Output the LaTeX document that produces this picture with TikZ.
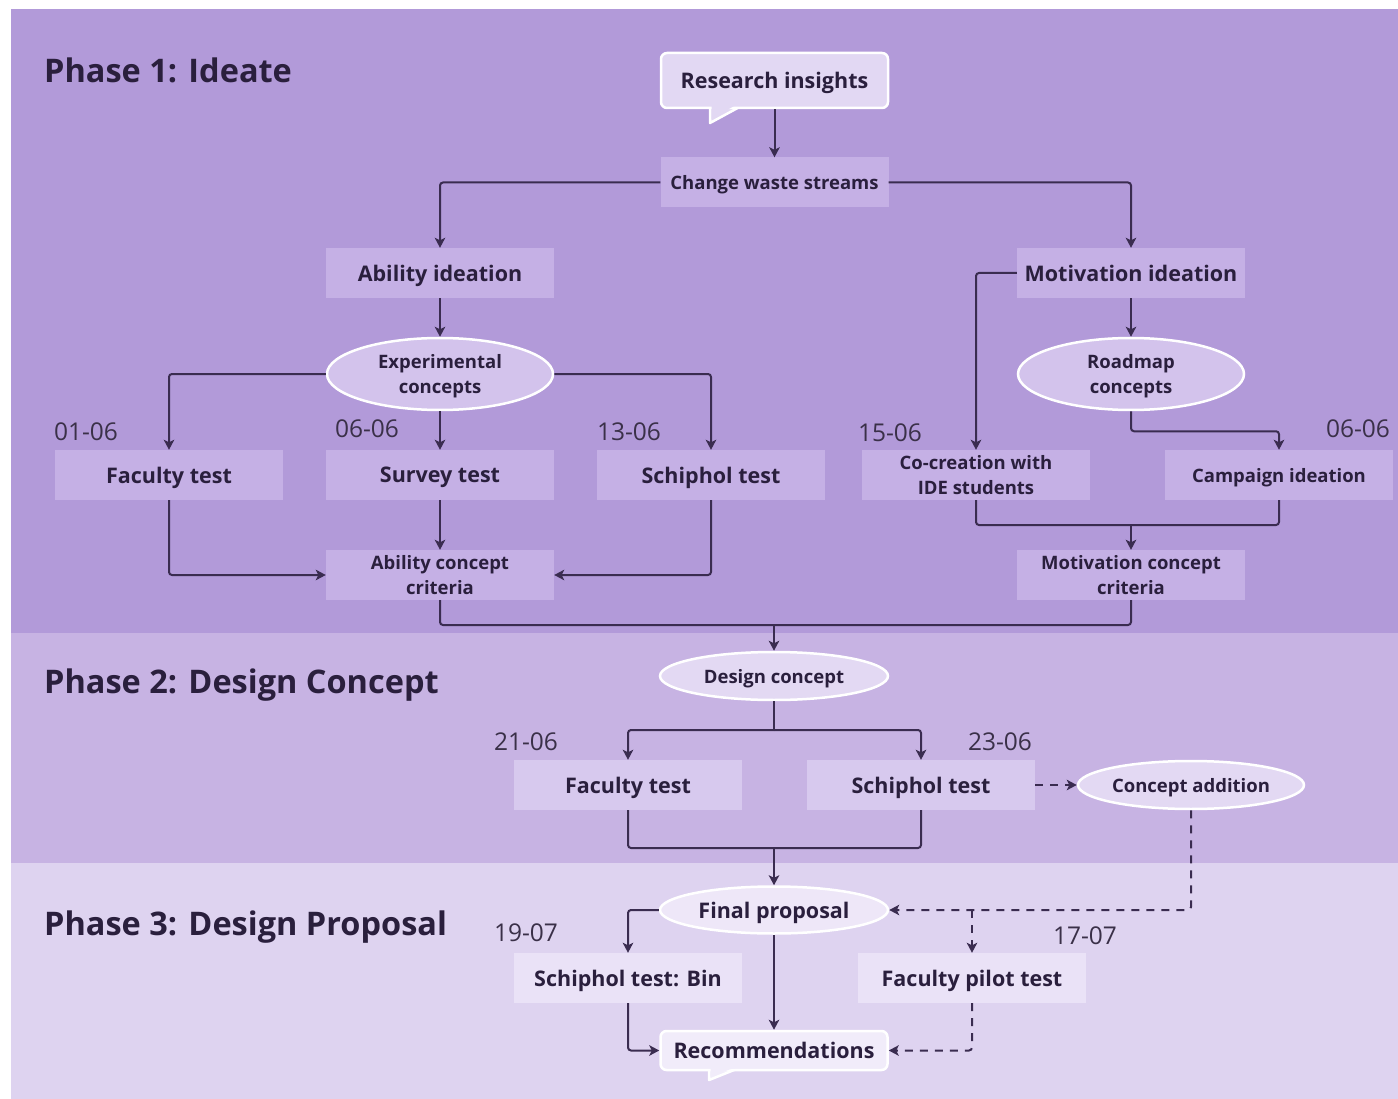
\documentclass[tikz,border=0pt]{standalone}
\usepackage{fontspec}
\setmainfont{Open Sans}
\usetikzlibrary{arrows.meta,shapes.geometric,calc}
\definecolor{bgA}{HTML}{B29AD9}
\definecolor{bgB}{HTML}{C7B3E3}
\definecolor{bgC}{HTML}{DED3F0}
\definecolor{boxA}{HTML}{C5B0E5}
\definecolor{ellA}{HTML}{D3C3EC}
\definecolor{callA}{HTML}{E2D8F3}
\definecolor{boxB}{HTML}{D7C9EE}
\definecolor{ellB}{HTML}{E3D9F3}
\definecolor{boxC}{HTML}{EAE2F7}
\definecolor{ellC}{HTML}{EEE7F8}
\definecolor{callC}{HTML}{F1ECFA}
\definecolor{txt}{HTML}{2A1F3D}
\definecolor{ln}{HTML}{3A2C50}
\definecolor{datec}{HTML}{3A3048}
\begin{document}
\begin{tikzpicture}[x=1pt,y=-1pt,
  lbl/.style={text=txt, font=\fontsize{18.5}{25.5}\selectfont\bfseries, align=center, text depth=0pt},
  big/.style={font=\fontsize{21.5}{25}\selectfont\bfseries},
  twoline/.style={text depth=-6pt},
  box/.style={lbl, rectangle, minimum width=228pt, minimum height=50pt, inner sep=0pt},
  ell/.style={lbl, ellipse, draw=white, line width=2.5pt, minimum width=226pt, minimum height=72pt, inner sep=0pt},
  callout/.style={lbl, rectangle, rounded corners=6pt, draw=white, line width=2.5pt, minimum width=227pt, inner sep=0pt},
  phase/.style={anchor=west, inner sep=0pt, text=txt, font=\fontsize{32.5}{36}\selectfont\bfseries},
  datel/.style={text=datec, font=\fontsize{24.5}{28}\selectfont},
  line/.style={draw=ln, line width=2pt, rounded corners=3pt},
  conn/.style={line, -{Stealth[length=10pt,width=10.5pt,inset=2.5pt]}},
  dconn/.style={conn, dash pattern=on 8pt off 7pt}]
\useasboundingbox (0,0) rectangle (1398,1099);
\fill[white] (0,0) rectangle (1398,1099);
% phase backgrounds
\fill[bgA] (11,9) rectangle (1398,633);
\fill[bgB] (11,633) rectangle (1398,863);
\fill[bgC] (11,863) rectangle (1398,1099);
\node[phase] (p1) at (44,70) {Phase 1: Ideate};
\node[phase] (p2) at (44,685) {Phase 2: Design Concept};
\node[phase] (p3) at (44,927) {Phase 3: Design Proposal};
% callout tails
\fill[callA, draw=white, line width=2.5pt, line join=round] (710,104) -- (710,123) -- (745,104) -- cycle;
\fill[callC, draw=white, line width=2.5pt, line join=round] (709,1066) -- (709,1080) -- (744,1066) -- cycle;
% nodes phase 1
\node[callout, big, fill=callA, minimum height=55pt] (ri) at (774.5,80.5) {Research insights};
\fill[callA] (711.5,102) -- (711.5,119) -- (741,102) -- cycle;
\node[box, fill=boxA] (cws) at (774.5,182.5) {Change waste streams};
\node[box, big, fill=boxA] (ai) at (440,273) {Ability ideation};
\node[box, big, fill=boxA] (mi) at (1131,273) {Motivation ideation};
\node[ell, fill=ellA] (ec) at (440,374) {Experimental\\concepts};
\node[ell, fill=ellA] (rc) at (1131,374) {Roadmap\\concepts};
\node[box, big, fill=boxA] (ft1) at (169,475) {Faculty test};
\node[box, big, fill=boxA] (st) at (440,475) {Survey test};
\node[box, big, fill=boxA] (sc1) at (711,475) {Schiphol test};
\node[box, twoline, fill=boxA] (cc) at (976,475) {Co-creation with\\IDE students};
\node[box, fill=boxA] (ci) at (1279,475) {Campaign ideation};
\node[box, twoline, fill=boxA] (acc) at (440,575) {Ability concept\\criteria};
\node[box, twoline, fill=boxA] (mcc) at (1131,575) {Motivation concept\\criteria};
% phase 2
\node[ell, fill=ellB, minimum height=48pt, minimum width=228pt] (dc) at (774,676) {Design concept};
\node[box, big, fill=boxB] (ft2) at (628,785) {Faculty test};
\node[box, big, fill=boxB] (sc2) at (921,785) {Schiphol test};
\node[ell, fill=ellB, minimum height=48pt, minimum width=226pt] (ca) at (1191,785) {Concept addition};
% phase 3
\node[ell, big, fill=ellC, minimum height=47pt, minimum width=228pt] (fp) at (774,910) {Final proposal};
\node[box, big, fill=boxC] (sb) at (628,978) {Schiphol test: Bin};
\node[box, big, fill=boxC] (fpt) at (972,978) {Faculty pilot test};
\node[callout, big, fill=callC, minimum height=39pt] (rec) at (774,1050.5) {Recommendations};
\fill[callC] (710.5,1066) -- (710.5,1076) -- (740,1066) -- cycle;
% dates
\node[datel] (d1) at (86,432) {01-06};
\node[datel] (d2) at (367,429) {06-06};
\node[datel] (d3) at (629,432) {13-06};
\node[datel] (d4) at (890,433) {15-06};
\node[datel] (d5) at (1358,429) {06-06};
\node[datel] (d6) at (526,742) {21-06};
\node[datel] (d7) at (1000,742) {23-06};
\node[datel] (d8) at (526,933) {19-07};
\node[datel] (d9) at (1085,936) {17-07};
% coordinates
\coordinate (mj) at (1131,525);
\coordinate (pj) at (774,625);
\coordinate (dj) at (774,730);
\coordinate (fj) at (774,848);
\coordinate (fb) at (972,910);
% connectors phase 1
\draw[conn] (ri.south) -- (cws.north);
\draw[conn] (cws.west) -| (ai.north);
\draw[conn] (cws.east) -| (mi.north);
\draw[conn] (ai.south) -- (ec.north);
\draw[conn] (ec.west) -| (ft1.north);
\draw[conn] (ec.south) -- (st.north);
\draw[conn] (ec.east) -| (sc1.north);
\draw[conn] (ft1.south) |- (acc.west);
\draw[conn] (st.south) -- (acc.north);
\draw[conn] (sc1.south) |- (acc.east);
\draw[conn] (mi.south) -- (rc.north);
\draw[conn] (mi.west) -| (cc.north);
\draw[conn] (rc.south) -- ++(0,20) -| (ci.north);
\draw[line] (cc.south) |- (mj);
\draw[line] (ci.south) |- (mj);
\draw[conn] (mj) -- (mcc.north);
\draw[line] (acc.south) |- (pj);
\draw[line] (mcc.south) |- (pj);
\draw[conn] (pj) -- (dc.north);
% phase 2
\draw[line] (dc.south) -- (dj);
\draw[conn] (dj) -| (ft2.north);
\draw[conn] (dj) -| (sc2.north);
\draw[dconn] (sc2.east) -- (ca.west);
\draw[line] (ft2.south) |- (fj);
\draw[line] (sc2.south) |- (fj);
\draw[conn] (fj) -- (fp.north);
% phase 3
\draw[dconn] (ca.south) |- (fp.east);
\draw[dconn] (fb) -- (fpt.north);
\draw[conn] (fp.west) -| (sb.north);
\draw[conn] (fp.south) -- (rec.north);
\draw[conn] (sb.south) |- (rec.west);
\draw[dconn] (fpt.south) |- (rec.east);
\end{tikzpicture}
\end{document}
